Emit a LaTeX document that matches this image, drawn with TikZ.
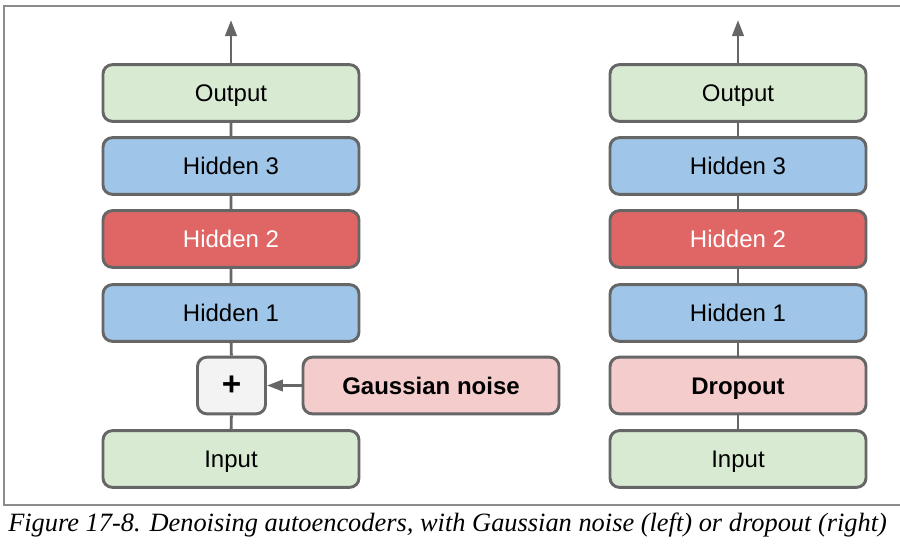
\documentclass[tikz,border=0pt]{standalone}
\usepackage{fontspec}
\setmainfont{Liberation Sans}
\newfontfamily\captionserif{Liberation Serif}
\usetikzlibrary{arrows.meta}
\definecolor{iogreen}{RGB}{217,234,211}
\definecolor{hiddenblue}{RGB}{159,197,232}
\definecolor{codered}{RGB}{224,102,102}
\definecolor{noisepink}{RGB}{244,204,204}
\definecolor{plusgray}{RGB}{243,243,243}
\definecolor{edgegray}{RGB}{102,102,102}
\definecolor{framegray}{RGB}{140,140,140}

\begin{document}
\begin{tikzpicture}[x=0.75pt,y=-0.75pt,>={Triangle[length=12pt,width=8.5pt]}]
  \tikzset{
    box/.style={rounded corners=7pt,draw=edgegray,line width=2.2pt,minimum width=192pt,
                minimum height=42.5pt,inner sep=0pt,text height=13pt,text depth=0pt,
                font=\fontsize{18}{20}\selectfont},
    io/.style={box,fill=iogreen}, hid/.style={box,fill=hiddenblue},
    code/.style={box,fill=codered,text=white},
    noise/.style={box,fill=noisepink,font=\fontsize{18}{20}\selectfont\bfseries},
    plus/.style={box,fill=plusgray,minimum width=51pt,text height=15pt,
                 font=\fontsize{25}{27}\selectfont\bfseries},
    link/.style={draw=edgegray,line width=2.2pt},
  }
  \useasboundingbox (0,0) rectangle (900,547);
  \draw[framegray,line width=0.8pt] (900,6) -- (4,6) -- (4,505) -- (900,505);

  % left: gaussian noise
  \node[io]   (lout) at (231,93)  {Output};
  \node[hid]  (lh3)  at (231,166) {Hidden 3};
  \node[code] (lh2)  at (231,239) {Hidden 2};
  \node[hid]  (lh1)  at (231,313) {Hidden 1};
  \node[plus] (lplus) at (231.5,385.5) {+};
  \node[noise] (gauss) at (431,385.5) {Gaussian noise};
  \node[io]   (lin)  at (231,459) {Input};
  \coordinate (ltop) at (231,20);

  % right: dropout
  \node[io]    (rout) at (738,93)  {Output};
  \node[hid]   (rh3)  at (738,166) {Hidden 3};
  \node[code]  (rh2)  at (738,239) {Hidden 2};
  \node[hid]   (rh1)  at (738,313) {Hidden 1};
  \node[noise] (drop) at (738,385.5) {Dropout};
  \node[io]    (rin)  at (738,459) {Input};
  \coordinate (rtop) at (738,20);

  \draw[link] (lin) -- (lplus) -- (lh1) -- (lh2) -- (lh3) -- (lout);
  \draw[link,->] (lout) -- (ltop);
  \draw[link,->] (gauss) -- (lplus);
  \draw[link] (rin) -- (drop) -- (rh1) -- (rh2) -- (rh3) -- (rout);
  \draw[link,->] (rout) -- (rtop);

  \node[anchor=base west,inner sep=0pt,font=\captionserif\itshape\fontsize{19.8}{22}\selectfont] (caption) at (8,531)
    {Figure 17-8. Denoising autoencoders, with Gaussian noise (left) or dropout (right)};
\end{tikzpicture}
\end{document}
